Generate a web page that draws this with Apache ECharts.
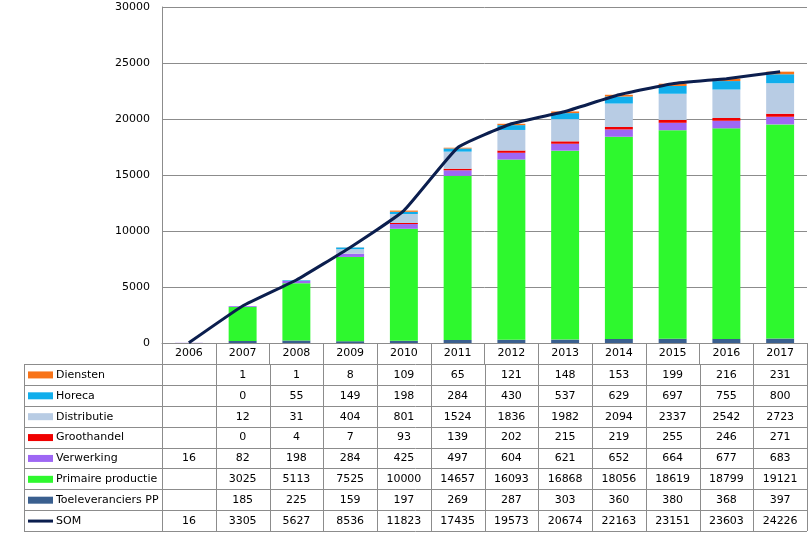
<!DOCTYPE html>
<html><head><meta charset="utf-8">
<script src="https://cdn.jsdelivr.net/npm/echarts@6/dist/echarts.min.js"></script>
<style>html,body{margin:0;padding:0;background:#fff}#c{width:812px;height:533px}</style>
</head><body><div id="c"></div>
<script>
const years = ['2006','2007','2008','2009','2010','2011','2012','2013','2014','2015','2016','2017'];
const diensten = [null,1,1,8,109,65,121,148,153,199,216,231];
const horeca = [null,0,55,149,198,284,430,537,629,697,755,800];
const distributie = [null,12,31,404,801,1524,1836,1982,2094,2337,2542,2723];
const groothandel = [null,0,4,7,93,139,202,215,219,255,246,271];
const verwerking = [16,82,198,284,425,497,604,621,652,664,677,683];
const primaire = [null,3025,5113,7525,10000,14657,16093,16868,18056,18619,18799,19121];
const toeleveranciers = [null,185,225,159,197,269,287,303,360,380,368,397];
const som = [16,3305,5627,8536,11823,17435,19573,20674,22163,23151,23603,24226];
const yTicks = [0,5000,10000,15000,20000,25000,30000];

const FONT = 'DejaVu Sans';
const FS = 11;
const GRAY = '#8c8c8c';

const rows = [
  {name:'Diensten', data:diensten, color:'#F87318'},
  {name:'Horeca', data:horeca, color:'#10AEEC'},
  {name:'Distributie', data:distributie, color:'#B8CCE4'},
  {name:'Groothandel', data:groothandel, color:'#F00000'},
  {name:'Verwerking', data:verwerking, color:'#9E67F4'},
  {name:'Primaire productie', data:primaire, color:'#2EF82E'},
  {name:'Toeleveranciers PP', data:toeleveranciers, color:'#3A5F8F'},
  {name:'SOM', data:som, color:'#0B1E4E', line:true}
];

const chart = echarts.init(document.getElementById('c'));
const stackOrder = rows.filter(r=>!r.line).slice().reverse();
const series = stackOrder.map(r=>({
  name:r.name, type:'bar', stack:'t', data:r.data, barWidth:'52%',
  itemStyle:{color:r.color}, animation:false, silent:true
}));
series.push({name:'SOM', type:'line', data:som, smooth:0.12, symbol:'none',
  lineStyle:{color:'#0B1E4E', width:3}, animation:false, z:5});

chart.setOption({
  animation:false,
  grid:{left:162, right:5, top:7, bottom:190, containLabel:false},
  xAxis:{type:'category', data:years, boundaryGap:true,
    axisLine:{lineStyle:{color:GRAY, width:1}},
    axisTick:{show:true, alignWithLabel:false, interval:0, length:21, lineStyle:{color:GRAY}},
    axisLabel:{fontFamily:FONT, fontSize:FS, color:'#000', margin:5, interval:0}
  },
  yAxis:{type:'value', min:yTicks[0], max:yTicks[yTicks.length-1], interval:5000,
    axisLine:{show:true, lineStyle:{color:GRAY}},
    axisTick:{show:false},
    splitLine:{lineStyle:{color:GRAY, width:1}},
    axisLabel:{fontFamily:FONT, fontSize:FS, color:'#000', margin:12, formatter:v=>String(v)}
  },
  series:series
});

const c0 = chart.convertToPixel({xAxisIndex:0}, years[0]);
const c1 = chart.convertToPixel({xAxisIndex:0}, years[1]);
const w = c1 - c0;
const plotLeft = c0 - w/2;
const plotRight = plotLeft + w*years.length;
const tableLeft = 24;
const top0 = 364, bottom0 = 531;
const rh = (bottom0 - top0)/rows.length;
const g = [];
const ls = {stroke:GRAY, lineWidth:1};
for (let i=0;i<=rows.length;i++){
  const y = Math.round(top0 + i*rh) + 0.5;
  g.push({type:'line', shape:{x1:tableLeft, y1:y, x2:plotRight, y2:y}, style:ls, silent:true});
}
const vx = [tableLeft, plotLeft];
for (let k=1;k<=years.length;k++) vx.push(plotLeft + k*w);
vx.forEach(x=>{
  const xx = Math.round(x)+0.5;
  g.push({type:'line', shape:{x1:xx, y1:top0, x2:xx, y2:bottom0}, style:ls, silent:true});
});
rows.forEach((r,i)=>{
  const cy = top0 + (i+0.5)*rh + 0.5;
  if (r.line){
    g.push({type:'line', shape:{x1:28, y1:cy, x2:53, y2:cy}, style:{stroke:r.color, lineWidth:3}, silent:true});
  } else {
    g.push({type:'rect', shape:{x:28, y:cy-3.5, width:25, height:7}, style:{fill:r.color}, silent:true});
  }
  g.push({type:'text', x:56, y:cy, style:{text:r.name, fontFamily:FONT, fontSize:FS, fill:'#000', verticalAlign:'middle', align:'left'}, silent:true});
  r.data.forEach((v,j)=>{
    if (v===null) return;
    const cx = chart.convertToPixel({xAxisIndex:0}, years[j]);
    g.push({type:'text', x:cx, y:cy, style:{text:String(v), fontFamily:FONT, fontSize:FS, fill:'#000', verticalAlign:'middle', align:'center'}, silent:true});
  });
});
chart.setOption({graphic:{elements:g}});
</script></body></html>
